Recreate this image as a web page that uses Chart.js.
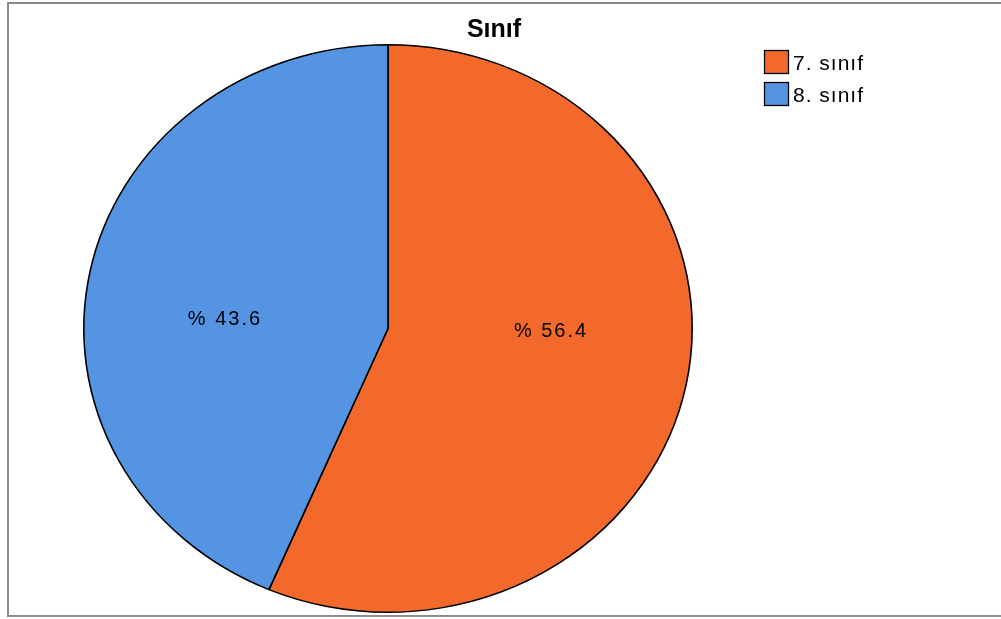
<!DOCTYPE html>
<html>
<head>
<meta charset="utf-8">
<script src="https://cdn.jsdelivr.net/npm/chart.js@4/dist/chart.umd.min.js"></script>
<style>
  html, body { margin: 0; padding: 0; background: #fff; overflow: hidden; width: 1001px; height: 619px; }
  #frame { position: absolute; left: 7px; top: 2px; width: 1100px; height: 611px;
           border: 2px solid #8c8c8c; background: #fff; }
  #wrap { position: absolute; left: 9px; top: 4px; width: 970px; height: 611px; }
</style>
</head>
<body>
<div id="frame"></div>
<div id="wrap"><canvas id="c" width="970" height="611"></canvas></div>
<script>
const chartTitle = 'Sınıf';
const categories = ['7. sınıf', '8. sınıf'];
const percentages = [56.4, 43.6];
const sliceColors = ['#F2692B', '#5594E3'];

const ELLIPSE_X = 1.072;

const ellipsePlugin = {
  id: 'ellipse',
  beforeDatasetsDraw(chart) {
    const a = chart.getDatasetMeta(0).data[0];
    const ctx = chart.ctx;
    ctx.save();
    ctx.translate(a.x, a.y);
    ctx.scale(ELLIPSE_X, 1);
    ctx.translate(-a.x, -a.y);
  },
  afterDatasetsDraw(chart) {
    chart.ctx.restore();
    // value labels
    const ctx = chart.ctx;
    const meta = chart.getDatasetMeta(0);
    ctx.save();
    ctx.font = '20px "Liberation Sans", Arial, sans-serif';
    ctx.letterSpacing = '2px';
    ctx.fillStyle = '#000';
    ctx.textAlign = 'center';
    ctx.textBaseline = 'middle';
    meta.data.forEach((arc, i) => {
      const p = arc.getProps(['x', 'y', 'startAngle', 'endAngle', 'outerRadius'], true);
      const mid = (p.startAngle + p.endAngle) / 2;
      const k = 0.547;
      const x = p.x + Math.cos(mid) * p.outerRadius * k * ELLIPSE_X;
      const y = p.y - 3 + Math.sin(mid) * p.outerRadius * k * 0.2;
      ctx.fillText('% ' + percentages[i].toFixed(1), x, y);
    });
    ctx.restore();
  }
};

const titleLegendPlugin = {
  id: 'titleLegend',
  afterDraw(chart) {
    const ctx = chart.ctx;
    ctx.save();
    // title
    ctx.font = 'bold 25px "Liberation Sans", Arial, sans-serif';
    ctx.fillStyle = '#000';
    ctx.textAlign = 'center';
    ctx.textBaseline = 'middle';
    ctx.fillText(chartTitle, chart.width / 2, 26);
    // legend
    const lx = chart.chartArea.right - 3;
    ctx.font = '21px "Liberation Sans", Arial, sans-serif';
    ctx.letterSpacing = '1px';
    ctx.textAlign = 'left';
    categories.forEach((lab, i) => {
      const y = 46 + i * 32;
      ctx.fillStyle = sliceColors[i];
      ctx.fillRect(lx, y, 25, 24);
      ctx.strokeStyle = '#000';
      ctx.lineWidth = 1.3;
      ctx.strokeRect(lx + 0.5, y + 0.5, 24, 23);
      ctx.fillStyle = '#000';
      ctx.fillText(lab, lx + 29, y + 14);
    });
    ctx.restore();
  }
};

new Chart(document.getElementById('c'), {
  type: 'pie',
  data: {
    labels: categories,
    datasets: [{
      data: percentages,
      backgroundColor: sliceColors,
      borderColor: '#000',
      borderWidth: 1.5
    }]
  },
  options: {
    responsive: false,
    animation: false,
    events: [],
    layout: { padding: { top: 40, right: 212, bottom: 2, left: 0 } },
    plugins: {
      legend: { display: false },
      title: { display: false },
      tooltip: { enabled: false }
    }
  },
  plugins: [ellipsePlugin, titleLegendPlugin]
});
</script>
</body>
</html>
